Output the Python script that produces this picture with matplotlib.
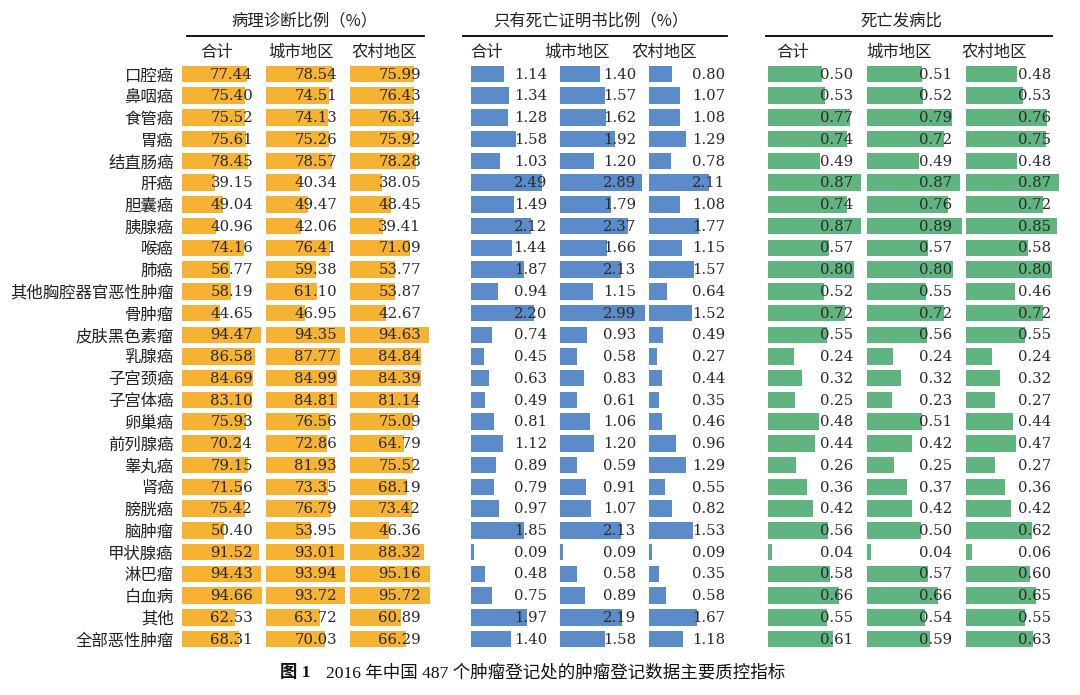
import numpy as np
import matplotlib
matplotlib.use("Agg")
import matplotlib.pyplot as plt
import matplotlib.transforms as mtransforms
from matplotlib.lines import Line2D

plt.rcParams['font.family'] = ['Noto Sans CJK SC', 'DejaVu Sans']

categories = ["口腔癌", "鼻咽癌", "食管癌", "胃癌", "结直肠癌", "肝癌", "胆囊癌", "胰腺癌",
              "喉癌", "肺癌", "其他胸腔器官恶性肿瘤", "骨肿瘤", "皮肤黑色素瘤", "乳腺癌",
              "子宫颈癌", "子宫体癌", "卵巢癌", "前列腺癌", "睾丸癌", "肾癌", "膀胱癌",
              "脑肿瘤", "甲状腺癌", "淋巴瘤", "白血病", "其他", "全部恶性肿瘤"]

# 病理诊断比例 (%)
mv_total = [77.44, 75.40, 75.52, 75.61, 78.45, 39.15, 49.04, 40.96, 74.16, 56.77, 58.19, 44.65, 94.47, 86.58,
            84.69, 83.10, 75.93, 70.24, 79.15, 71.56, 75.42, 50.40, 91.52, 94.43, 94.66, 62.53, 68.31]
mv_urban = [78.54, 74.51, 74.13, 75.26, 78.57, 40.34, 49.47, 42.06, 76.41, 59.38, 61.10, 46.95, 94.35, 87.77,
            84.99, 84.81, 76.56, 72.86, 81.93, 73.35, 76.79, 53.95, 93.01, 93.94, 93.72, 63.72, 70.03]
mv_rural = [75.99, 76.43, 76.34, 75.92, 78.28, 38.05, 48.45, 39.41, 71.09, 53.77, 53.87, 42.67, 94.63, 84.84,
            84.39, 81.14, 75.09, 64.79, 75.52, 68.19, 73.42, 46.36, 88.32, 95.16, 95.72, 60.89, 66.29]

# 只有死亡证明书比例 (%)
dco_total = [1.14, 1.34, 1.28, 1.58, 1.03, 2.49, 1.49, 2.12, 1.44, 1.87, 0.94, 2.20, 0.74, 0.45,
             0.63, 0.49, 0.81, 1.12, 0.89, 0.79, 0.97, 1.85, 0.09, 0.48, 0.75, 1.97, 1.40]
dco_urban = [1.40, 1.57, 1.62, 1.92, 1.20, 2.89, 1.79, 2.37, 1.66, 2.13, 1.15, 2.99, 0.93, 0.58,
             0.83, 0.61, 1.06, 1.20, 0.59, 0.91, 1.07, 2.13, 0.09, 0.58, 0.89, 2.19, 1.58]
dco_rural = [0.80, 1.07, 1.08, 1.29, 0.78, 2.11, 1.08, 1.77, 1.15, 1.57, 0.64, 1.52, 0.49, 0.27,
             0.44, 0.35, 0.46, 0.96, 1.29, 0.55, 0.82, 1.53, 0.09, 0.35, 0.58, 1.67, 1.18]

# 死亡发病比
mi_total = [0.50, 0.53, 0.77, 0.74, 0.49, 0.87, 0.74, 0.87, 0.57, 0.80, 0.52, 0.72, 0.55, 0.24,
            0.32, 0.25, 0.48, 0.44, 0.26, 0.36, 0.42, 0.56, 0.04, 0.58, 0.66, 0.55, 0.61]
mi_urban = [0.51, 0.52, 0.79, 0.72, 0.49, 0.87, 0.76, 0.89, 0.57, 0.80, 0.55, 0.72, 0.56, 0.24,
            0.32, 0.23, 0.51, 0.42, 0.25, 0.37, 0.42, 0.50, 0.04, 0.57, 0.66, 0.54, 0.59]
mi_rural = [0.48, 0.53, 0.76, 0.75, 0.48, 0.87, 0.72, 0.85, 0.58, 0.80, 0.46, 0.72, 0.55, 0.24,
            0.32, 0.27, 0.44, 0.47, 0.27, 0.36, 0.42, 0.62, 0.06, 0.60, 0.65, 0.55, 0.63]

sub_labels = ["合计", "城市地区", "农村地区"]
group_titles = ["病理诊断比例（%）", "只有死亡证明书比例（%）", "死亡发病比"]

W, H = 1080, 695
fig = plt.figure(figsize=(W / 100, H / 100), dpi=100)

def fx(x): return x / W
def fy(y): return 1 - y / H

row_top, row_bot = 63.1, 649.9
txt_color = "#222222"
cjk_size = 11.8
num_size = 10.7

# layout of the three blocks (pixels)
groups = [
    dict(cols=[mv_total, mv_urban, mv_rural], starts=[182, 266, 350], width=84, xmax=100,
         color="#F5B233", text_r=71, head_c=[35, 35, 34], line=(187, 424), title_c=304),
    dict(cols=[dco_total, dco_urban, dco_rural], starts=[471, 560, 649], width=89, xmax=3.12,
         color="#5B8BC9", text_r=76, head_c=[16, 17, 15], line=(463, 727), title_c=591),
    dict(cols=[mi_total, mi_urban, mi_rural], starts=[768, 867, 966], width=99, xmax=0.925,
         color="#5FB47F", text_r=85, head_c=[25, 32, 28], line=(766, 1052), title_c=901),
]

y = np.arange(len(categories))
first = True
for g, title in zip(groups, group_titles):
    for vals, start, hc, sub in zip(g["cols"], g["starts"], g["head_c"], sub_labels):
        ax = fig.add_axes([fx(start), fy(row_bot), g["width"] / W, (row_bot - row_top) / H])
        ax.barh(y, vals, height=0.76, color=g["color"], zorder=1)
        ax.set_xlim(0, g["xmax"])
        ax.set_ylim(len(categories) - 0.5, -0.5)
        ax.set_xticks([])
        for s in ax.spines.values():
            s.set_visible(False)
        ax.patch.set_alpha(0)
        if first:
            ax.set_yticks(y, categories)
            ax.tick_params(axis='y', length=0, pad=6, labelsize=cjk_size, labelcolor=txt_color)
            first = False
        else:
            ax.set_yticks([])
        trans = mtransforms.blended_transform_factory(ax.transAxes, ax.transData)
        for i, v in enumerate(vals):
            ax.text(g["text_r"] / g["width"], i + 0.03, "%.2f" % v, transform=trans, ha='right',
                    va='center', fontsize=num_size, color="#2a2a2a",
                    family=['DejaVu Serif'], zorder=3)
        fig.text(fx(start + hc), fy(52), sub, ha='center', va='center',
                 fontsize=cjk_size, color=txt_color)
    fig.text(fx(g["title_c"]), fy(21), title, ha='center', va='center',
             fontsize=cjk_size, color=txt_color)
    x0, x1 = g["line"]
    fig.add_artist(Line2D([fx(x0), fx(x1)], [fy(36), fy(36)], color="black", lw=1.3))

# caption
fig.text(fx(280), fy(673), "图 1", ha='left', va='center', fontsize=12.5,
         fontweight='bold', color="#111111", family=['Liberation Serif', 'Noto Sans CJK SC'])
fig.text(fx(326), fy(673), "2016 年中国 487 个肿瘤登记处的肿瘤登记数据主要质控指标",
         ha='left', va='center', fontsize=12.6, color="#111111",
         family=['Liberation Serif', 'Noto Sans CJK SC'])

fig.savefig("out.png", dpi=100)
